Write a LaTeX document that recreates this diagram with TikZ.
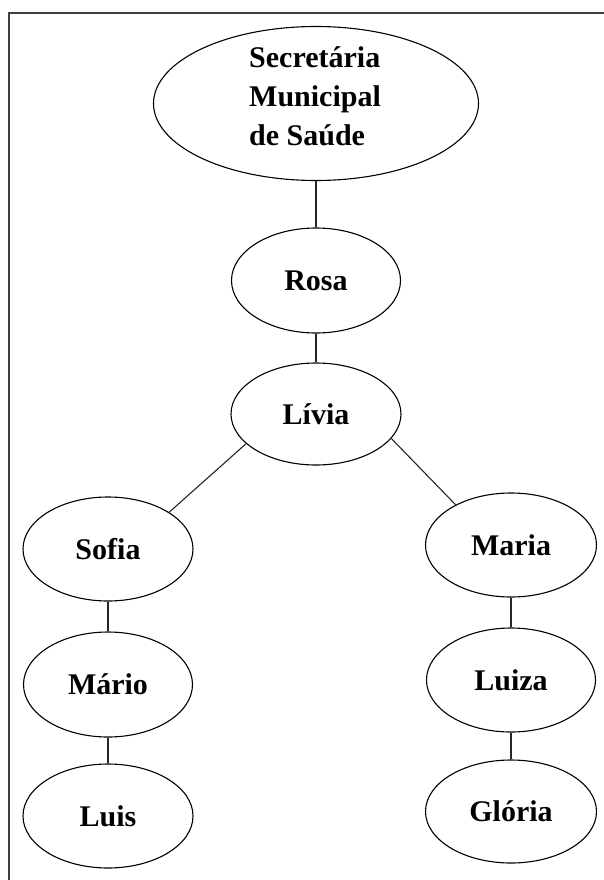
\documentclass[tikz,border=0pt]{standalone}
\usepackage{fontspec}
\setmainfont{Liberation Serif}
\usetikzlibrary{shapes.geometric}
\begin{document}
\begin{tikzpicture}[x=1pt,y=-1pt,
  labelfont/.style={font=\fontsize{30}{38.5}\selectfont\bfseries},
  oval/.style={ellipse,draw=black,line width=1.1pt,inner sep=0pt,
    minimum width=170pt,minimum height=104pt,labelfont,
    text height=20pt,text depth=0pt},
  link/.style={draw=black!85,line width=1.1pt},
  frame/.style={draw=black!75,line width=1.3pt}]
\useasboundingbox (0,0) rectangle (604,880);
\fill[white] (0,0) rectangle (604,880);
% frame (only top and left edges visible)
\coordinate (fbl) at (9,881);
\coordinate (ftl) at (9,13);
\coordinate (ftr) at (605,13);
\draw[frame] (fbl) -- (ftl) -- (ftr);
% nodes
\node[oval,minimum width=325pt,minimum height=154pt] (sec) at (316,103.5) {};
\node[labelfont,anchor=base west,inner sep=0pt] (sec1) at (249,68) {Secretária};
\node[labelfont,anchor=base west,inner sep=0pt] (sec2) at (249,106.5) {Municipal};
\node[labelfont,anchor=base west,inner sep=0pt] (sec3) at (249,145) {de Saúde};
\node[oval,minimum width=169pt,minimum height=105pt] (rosa) at (316,280.5) {Rosa};
\node[oval,minimum width=170pt,minimum height=102pt] (livia) at (316,414) {Lívia};
\node[oval,minimum width=170pt,minimum height=104pt] (sofia) at (108,549) {Sofia};
\node[oval,minimum width=171pt,minimum height=104pt] (maria) at (511,545) {Maria};
\node[oval,minimum width=169pt,minimum height=105pt] (mario) at (108,684.5) {Mário};
\node[oval,minimum width=170pt,minimum height=104pt] (luis) at (108,816) {Luis};
\node[oval,minimum width=169pt,minimum height=104pt] (luiza) at (511,680) {Luiza};
\node[oval,minimum width=171pt,minimum height=103pt] (gloria) at (511,811.5) {Glória};
% connectors
\draw[link] (sec.south) -- (rosa.north);
\draw[link] (rosa.south) -- (livia.north);
\draw[link] (livia.203) -- (sofia.31);
\draw[link] (livia.342) -- (maria.144);
\draw[link] (sofia.south) -- (mario.north);
\draw[link] (mario.south) -- (luis.north);
\draw[link] (maria.south) -- (luiza.north);
\draw[link] (luiza.south) -- (gloria.north);
\end{tikzpicture}
\end{document}
